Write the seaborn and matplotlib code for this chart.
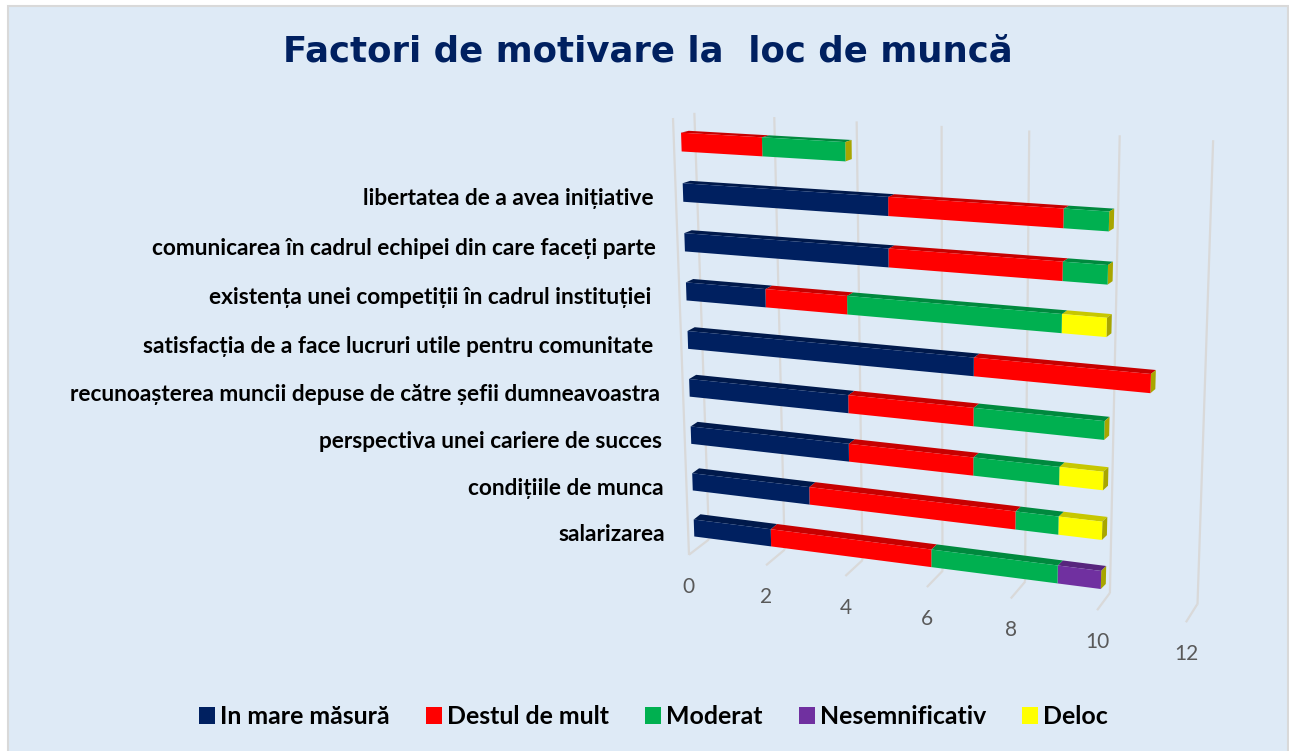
import numpy as np
import pandas as pd
import matplotlib
matplotlib.use("Agg")
import matplotlib.pyplot as plt
import seaborn as sns
from matplotlib.patches import Patch, Polygon, Rectangle
from matplotlib.transforms import Transform
from matplotlib.colors import to_rgb

# ---------- data ----------
categories = [" ", "libertatea de a avea inițiative",
              "comunicarea în cadrul echipei din care faceți parte",
              "existența unei competiții în cadrul instituției ",
              "satisfacția de a face lucruri utile pentru comunitate ",
              "recunoașterea muncii depuse de către șefii dumneavoastra",
              "perspectiva unei cariere de succes",
              "condițiile de munca", "salarizarea"]
in_mare_masura = [0, 5, 5, 2, 7, 4, 4, 3, 2]
destul_de_mult = [2, 4, 4, 2, 4, 3, 3, 5, 4]
moderat = [2, 1, 1, 5, 0, 3, 2, 1, 3]
nesemnificativ = [0, 0, 0, 0, 0, 0, 0, 0, 1]
deloc = [0, 0, 0, 1, 0, 0, 1, 1, 0]
series_names = ["In mare măsură", "Destul de mult", "Moderat", "Nesemnificativ", "Deloc"]
series_values = [in_mare_masura, destul_de_mult, moderat, nesemnificativ, deloc]
series_colors = ["#002060", "#FF0000", "#00B050", "#7030A0", "#FFFF00"]
value_ticks = [0, 2, 4, 6, 8, 10, 12]
title_text = "Factori de motivare la  loc de muncă"

W, H = 1289, 751
BG = "#DEEAF6"
GRID = "#D9D9D9"


# ---------- perspective projection of the 3-D Excel chart ----------
class Plane(Transform):
    """Projective map from chart coordinates to figure pixels (least-squares calibrated)."""
    input_dims = output_dims = 2
    is_separable = False
    has_inverse = False

    def __init__(self, src, dst):
        super().__init__()
        A, b = [], []
        for (u, v), (x, y) in zip(src, dst):
            y = H - y
            A.append([u, v, 1, 0, 0, 0, -u * x, -v * x]); b.append(x)
            A.append([0, 0, 0, u, v, 1, -u * y, -v * y]); b.append(y)
        h = np.linalg.lstsq(np.array(A, float), np.array(b, float), rcond=None)[0]
        self.m = np.append(h, 1).reshape(3, 3)

    def transform_non_affine(self, values):
        p = np.column_stack([values, np.ones(len(values))]) @ self.m.T
        return p[:, :2] / p[:, 2:]

    def inverted(self):
        raise NotImplementedError


bar_src = [(0, 8), (10, 8), (0, 1), (10, 1)]
front = Plane(bar_src, [(694, 528), (1101, 580), (683, 192.5), (1109, 221.5)])
back = Plane(bar_src, [(700.7, 522.7), (1106, 575), (690.5, 190), (1114, 218.5)])

wall_bottom = [(709, 539), (784, 550), (863, 560), (943, 570), (1025, 582), (1110, 593), (1197, 605)]
wall_top = [(694, 113), (774, 117), (857, 122), (942, 126), (1030, 130), (1119, 135), (1213, 140)]
floor_front = [(689, 555), (766, 566), (845, 576), (927, 587), (1011, 598), (1097, 610), (1186, 622)]
grid_src0 = [(v, 0) for v in value_ticks]
grid_src1 = [(v, 1) for v in value_ticks]
wall = Plane(grid_src0 + grid_src1, wall_bottom + wall_top)
floor = Plane(grid_src0 + grid_src1, floor_front + wall_bottom)
side = Plane([(0, 0), (12, 0), (0, 1), (12, 1)], [(689, 555), (1186, 622), (673, 118), (1190, 150)])

# ---------- figure ----------
sns.set_theme(style="white")
plt.rcParams["font.family"] = ["Lato", "DejaVu Sans"]
fig = plt.figure(figsize=(W / 100, H / 100), dpi=100, facecolor="white")
fig.add_artist(Rectangle((7.5 / W, -0.01), (W - 8.5) / W, 1 - 5.5 / H + 0.01, transform=fig.transFigure,
                         facecolor=BG, edgecolor=GRID, linewidth=1.5, zorder=-5))
ax = fig.add_axes([0, 0, 1, 1])
ax.patch.set_alpha(0)

# gridlines
ax.vlines(value_ticks, 0, 1, transform=wall, colors=GRID, linewidth=1.6, zorder=1, clip_on=False)
ax.vlines(value_ticks, 0, 1, transform=floor, colors=GRID, linewidth=1.6, zorder=1, clip_on=False)
ax.vlines(value_ticks[:1], 0, 1, transform=side, colors=GRID, linewidth=1.6, zorder=1, clip_on=False)

# stacked bars: seaborn draws the cumulative totals, each is then cut down to its own segment
cumulative = np.cumsum(np.array(series_values, float), axis=0)
for k in range(len(series_names) - 1, -1, -1):
    df = pd.DataFrame({"category": categories, "value": cumulative[k]})
    n_before = len(ax.patches)
    sns.barplot(data=df, x="value", y="category", order=categories, orient="h",
                color=series_colors[k], saturation=1, width=0.37, linewidth=0,
                errorbar=None, ax=ax)
    top_color = tuple(c * 0.78 for c in to_rgb(series_colors[k]))
    starts = cumulative[k - 1] if k > 0 else np.zeros(len(categories))
    for patch, start in zip(list(ax.patches[n_before:]), starts):
        x1 = patch.get_x() + patch.get_width()
        patch.set_x(start)
        patch.set_width(x1 - start)
        x0 = start
        y0, y1 = patch.get_y(), patch.get_y() + patch.get_height()
        y_top, y_bot = min(y0, y1), max(y0, y1)
        patch.set_transform(front)
        patch.set_clip_on(False)
        patch.set_zorder(3)
        if k == len(series_names) - 1:
            pts_f = front.transform(np.array([[x1, y_top], [x1, y_bot]]))
            pts_b = back.transform(np.array([[x1, y_bot], [x1, y_top]]))
            ax.add_artist(Polygon(np.vstack([pts_f, pts_b]), closed=True, transform=None,
                                  facecolor="#A8A600", edgecolor="none", zorder=2.5, clip_on=False))
        if x1 <= x0:
            patch.set_visible(False)
            continue
        pts_f = front.transform(np.array([[x0, y_top], [x1, y_top]]))
        pts_b = back.transform(np.array([[x1, y_top], [x0, y_top]]))
        ax.add_artist(Polygon(np.vstack([pts_f, pts_b]), closed=True, transform=None,
                              facecolor=top_color, edgecolor="none", zorder=2, clip_on=False))

ax.axis("off")

# category labels
for i, label in enumerate(categories):
    ax.annotate(label, xy=(0, i), xycoords=front, xytext=(-29, -13), textcoords="offset pixels",
                ha="right", va="baseline", fontsize=16.3, fontweight="bold", color="black",
                annotation_clip=False)

# value labels
for v in value_ticks:
    ax.annotate(str(v), xy=(v, 0), xycoords=floor, xytext=(0, -32), textcoords="offset pixels",
                ha="center", va="center", fontsize=15, color="#595959", annotation_clip=False)

# title
fig.text(648 / W, 1 - 51 / H, title_text, ha="center", va="center", fontsize=25.6,
         fontweight="bold", color="#002060", family=["DejaVu Sans"])

# legend
handles = [Patch(facecolor=c, edgecolor="none", label=n) for n, c in zip(series_names, series_colors)]
fs = 17.9
px = fs * 100 / 72
fig.legend(handles=handles, ncols=5, loc="center", bbox_to_anchor=(653.5 / W, 1 - 716.5 / H),
           frameon=False, handlelength=16 / px, handleheight=16 / px, handletextpad=5 / px,
           columnspacing=36 / px, borderpad=0, borderaxespad=0, labelcolor="black",
           prop={"family": ["Lato", "DejaVu Sans"], "weight": "bold", "size": fs})

fig.savefig("out.png", dpi=100, facecolor="white")
